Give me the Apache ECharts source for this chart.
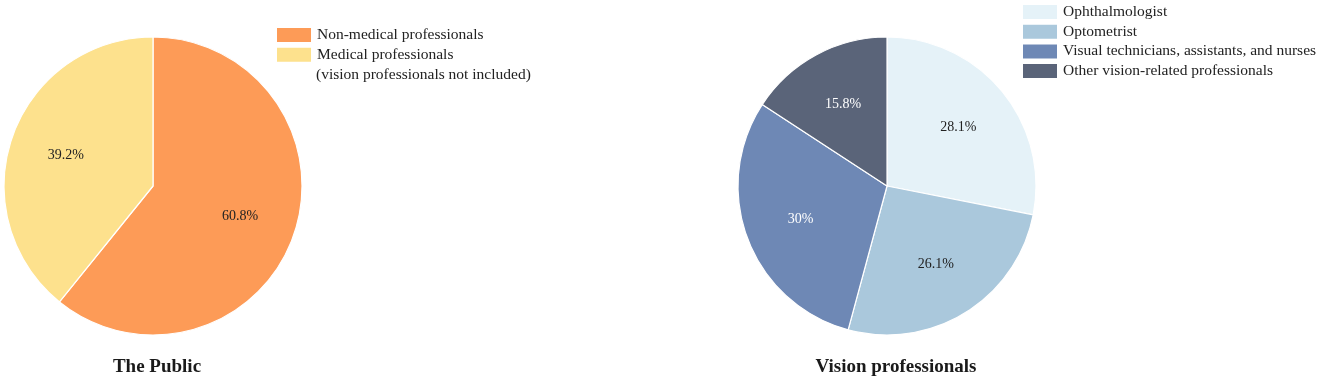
<!DOCTYPE html>
<html><head><meta charset="utf-8">
<script src="https://cdn.jsdelivr.net/npm/echarts@6/dist/echarts.min.js"></script>
<style>html,body{margin:0;padding:0;background:#fff}#c{width:1325px;height:382px}</style>
</head><body><div id="c"></div>
<script>
const publicNames = ['Non-medical professionals', 'Medical professionals'];
const publicValues = [60.8, 39.2];
const publicColors = ['#FD9B57', '#FDE18D'];
const publicLabelColors = ['#222', '#222'];
const publicNote = '(vision professionals not included)';
const visionNames = ['Ophthalmologist', 'Optometrist', 'Visual technicians, assistants, and nurses', 'Other vision-related professionals'];
const visionValues = [28.1, 26.1, 30, 15.8];
const visionColors = ['#E5F2F8', '#AAC8DC', '#6E88B5', '#5A6479'];
const visionLabelColors = ['#222', '#222', '#fff', '#fff'];
const titles = ['The Public', 'Vision professionals'];

const FONT = '"Liberation Serif", "Times New Roman", serif';
const R = 149;
function pieSeries(names, vals, colors, labelColors, cx){
  return [{
    type:'pie', center:[cx,186], radius:[0,R], startAngle:90, clockwise:true,
    data: names.map((n,i)=>({name:n, value:vals[i], itemStyle:{color:colors[i]}})),
    label:{show:false}, labelLine:{show:false},
    itemStyle:{borderColor:'#fff', borderWidth:1.2}, emphasis:{disabled:true}, animation:false
  },{
    type:'pie', center:[cx,186], radius:[0,R*1.2], startAngle:90, clockwise:true, silent:true,
    legendHoverLink:false,
    data: names.map((n,i)=>({name:'_'+n, value:vals[i], itemStyle:{color:'rgba(0,0,0,0)'}, label:{color:labelColors[i]}})),
    label:{show:true, position:'inside', formatter:p=>vals[p.dataIndex]+'%', fontFamily:FONT, fontSize:14},
    labelLine:{show:false}, emphasis:{disabled:true}, animation:false, z:5
  }];
}
const legendText = {fontFamily:FONT, fontSize:15.5, color:'#222', lineHeight:16};
const chart = echarts.init(document.getElementById('c'));
chart.setOption({
  animation:false,
  legend:[{
    data: publicNames, orient:'vertical', left:275, top:26, padding:0, itemWidth:36, itemHeight:16, itemGap:1.8,
    icon:'rect', selectedMode:false, textStyle:legendText
  },{
    data: visionNames, orient:'vertical', left:1021, top:3, padding:0, itemWidth:36, itemHeight:16, itemGap:1.7,
    icon:'rect', selectedMode:false, textStyle:legendText
  }],
  graphic:[
    {type:'text', left:316, top:67, style:{text:publicNote, font:'15.5px '+FONT, fill:'#222'}},
    {type:'text', x:157, y:367, style:{text:titles[0], font:'bold 19px '+FONT, fill:'#1a1a1a', textAlign:'center', textVerticalAlign:'middle'}},
    {type:'text', x:896, y:367, style:{text:titles[1], font:'bold 19px '+FONT, fill:'#1a1a1a', textAlign:'center', textVerticalAlign:'middle'}}
  ],
  series:[...pieSeries(publicNames, publicValues, publicColors, publicLabelColors, 153),
          ...pieSeries(visionNames, visionValues, visionColors, visionLabelColors, 887)]
});
</script></body></html>
